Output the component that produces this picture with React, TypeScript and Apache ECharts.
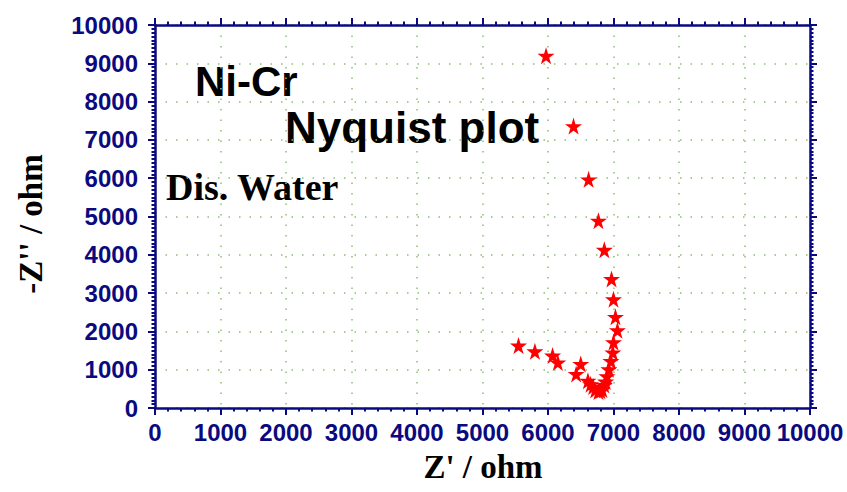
import React, { useEffect, useRef } from "react";
import * as echarts from "echarts";

const zReal: number[] = [5550, 5800, 6070, 6150, 6500, 6430, 6610, 6650, 6690, 6720, 6770, 6800, 6830, 6860, 6880, 6900, 6930, 6960, 6990, 7000, 7060, 7030, 7000, 6970, 6860, 6770, 6620, 6390, 5970];
const zImag: number[] = [1630, 1480, 1370, 1190, 1150, 890, 710, 620, 560, 470, 430, 450, 480, 600, 690, 830, 1010, 1230, 1450, 1720, 2030, 2380, 2840, 3370, 4130, 4890, 5970, 7360, 9200];

const axisMin = 0;
const axisMax = 10000;
const axisStep = 1000;

const STAR = "path://M50,0 L61,35 L98,35 L68,57 L79,91 L50,70 L21,91 L32,57 L2,35 L39,35 Z";
const NAVY = "#0a0a80";

export default function App() {
  const ref = useRef<HTMLDivElement>(null);
  useEffect(() => {
    if (!ref.current) return;
    const chart = echarts.init(ref.current, undefined, { renderer: "svg" });
    const grid = { left: 155, right: 37, top: 25, bottom: 84 };
    const gridLine = { show: true, lineStyle: { color: "#8fbd74", width: 1.5, type: [1.5, 9] as any } };
    const baseAxis = (pos: string, labels: boolean, minorSplit: number, isX: boolean) => ({
      type: "value",
      position: pos,
      min: axisMin,
      max: axisMax,
      interval: axisStep,
      axisLine: { show: true, onZero: false, lineStyle: { color: NAVY, width: 2.5 } },
      axisTick: { show: true, inside: false, length: 7, lineStyle: { color: NAVY, width: 2 } },
      minorTick: { show: true, splitNumber: minorSplit, length: 3.5, lineStyle: { color: NAVY, width: 2 } },
      axisLabel: {
        show: labels,
        color: NAVY,
        fontFamily: "Liberation Sans, Arial, sans-serif",
        fontWeight: "bold",
        fontSize: 24,
        margin: isX ? 12 : 17,
        formatter: (v: number) => String(v),
      },
      splitLine: labels ? gridLine : { show: false },
    });
    chart.setOption({
      animation: false,
      backgroundColor: "#ffffff",
      grid,
      xAxis: [baseAxis("bottom", true, 5, true), baseAxis("top", false, 5, true)],
      yAxis: [baseAxis("left", true, 10, false), baseAxis("right", false, 10, false)],
      series: [
        {
          type: "scatter",
          xAxisIndex: 0,
          yAxisIndex: 0,
          symbol: STAR,
          symbolSize: 17,
          itemStyle: { color: "#ff0000", opacity: 1 },
          data: zReal.map((x, i) => [x, zImag[i]]),
        },
      ],
      graphic: [
        {
          type: "text",
          x: 195,
          y: 81,
          style: { text: "Ni-Cr", font: "bold 42px 'Liberation Sans', Arial, sans-serif", fill: "#000", align: "left", verticalAlign: "middle" },
        },
        {
          type: "text",
          x: 285,
          y: 127,
          style: { text: "Nyquist plot", font: "bold 44px 'Liberation Sans', Arial, sans-serif", fill: "#000", align: "left", verticalAlign: "middle" },
        },
        {
          type: "text",
          x: 166,
          y: 187,
          style: { text: "Dis. Water", font: "bold 38px 'Liberation Serif', 'Times New Roman', serif", fill: "#000", align: "left", verticalAlign: "middle" },
        },
        {
          type: "text",
          x: 483,
          y: 467,
          style: { text: "Z' / ohm", font: "bold 33px 'Liberation Serif', 'Times New Roman', serif", fill: "#000", align: "center", verticalAlign: "middle" },
        },
        {
          type: "text",
          x: 31,
          y: 224,
          rotation: Math.PI / 2,
          style: { text: "-Z'' / ohm", font: "bold 33px 'Liberation Serif', 'Times New Roman', serif", fill: "#000", align: "center", verticalAlign: "middle" },
        },
      ],
    });
    return () => chart.dispose();
  }, []);
  return <div ref={ref} style={{ position: "absolute", left: 0, top: 0, width: 847, height: 492 }} />;
}
